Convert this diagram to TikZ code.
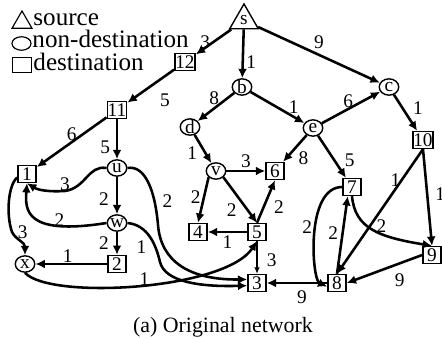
\documentclass[tikz,border=0pt]{standalone}
\usepackage{fontspec}
\setmainfont{Liberation Serif}
\usetikzlibrary{shapes,arrows.meta,calc}
\tikzstyle{line} = [draw, line width=1.1pt, -{Latex[length=4pt,width=3.8pt]}]
\tikzstyle{thinline} = [draw, line width=0.45pt, -{Latex[length=2.8pt,width=2.4pt]}]
\tikzstyle{dest} = [draw, rectangle, line width=0.6pt, inner sep=0.2pt, minimum width=7.8pt, minimum height=7.3pt, font=\fontsize{8.3}{9}\selectfont]
\tikzstyle{relay} = [draw, ellipse, line width=0.6pt, inner sep=-1pt, minimum width=8.4pt, minimum height=7pt, font=\fontsize{8.3}{9}\selectfont]
\tikzstyle{srcnode} = [draw, regular polygon, regular polygon sides=3, line width=0.6pt, inner sep=0pt, minimum size=14.2pt, font=\fontsize{8.3}{9}\selectfont]
\tikzstyle{wt} = [font=\fontsize{8.3}{9}\selectfont, inner sep=1pt]
\tikzstyle{legtext} = [anchor=base west, inner sep=0pt, font=\fontsize{10.8}{12}\selectfont]

\begin{document}
\begin{tikzpicture}[x=0.43pt, y=-0.43pt]
    \useasboundingbox (0,0) rectangle (442,339);
    % legend
    \node[draw, regular polygon, regular polygon sides=3, line width=0.5pt, minimum size=9.9pt, inner sep=0pt] (legsrc) at (22,22.5) {};
    \node[legtext] (legsrctext) at (33,26) {source};
    \node[draw, ellipse, line width=0.5pt, minimum width=8.2pt, minimum height=5.8pt, inner sep=0pt] (legrelay) at (21.5,43.5) {};
    \node[legtext] (legrelaytext) at (32,48) {non-destination};
    \node[draw, rectangle, line width=0.5pt, minimum width=8.4pt, minimum height=6.8pt, inner sep=0pt] (legdest) at (22,65) {};
    \node[legtext] (legdesttext) at (33,70.5) {destination};

    % nodes
    \node[srcnode] (s) at (244,20.5) {s};
    \node[dest] (n12) at (185,62) {12};
    \node[relay] (b) at (242,87) {b};
    \node[relay] (c) at (389,87) {c};
    \node[dest] (n11) at (117,110) {11};
    \node[relay] (d) at (190,127) {d};
    \node[relay] (e) at (313,128) {e};
    \node[dest] (n10) at (423,140) {10};
    \node[dest] (n1) at (27,174) {1};
    \node[relay] (u) at (117,168) {u};
    \node[relay] (v) at (216,171) {v};
    \node[dest] (n6) at (275,171) {6};
    \node[dest] (n7) at (352,187) {7};
    \node[relay] (w) at (117,223) {w};
    \node[dest] (n4) at (198,232) {4};
    \node[dest] (n5) at (257,232) {5};
    \node[relay] (x) at (25,264) {x};
    \node[dest] (n2) at (117,264) {2};
    \node[dest] (n9) at (432,255) {9};
    \node[dest] (n3) at (257,283) {3};
    \node[dest] (n8) at (337,283) {8};

    % straight links
    \path[line] (s) -- node[wt, left] {3} (n12);
    \path[line] (s) -- node[wt, right, pos=0.68] {1} (b);
    \path[line] (s) -- node[wt, above=1pt] {9} (c);
    \path[line] (n12) -- node[wt, below=6pt, pos=0.2] {5} (n11);
    \path[line] (b) -- node[wt, above, pos=0.55] {8} (d);
    \path[line] (b) -- node[wt, above, pos=0.8] {1} (e);
    \path[line] (e) -- node[wt, above=-1pt, pos=0.45] {6} (c);
    \path[line] (c) -- node[wt, right=3pt, pos=0.37] {1} (n10);
    \path[line] (n11) -- node[wt, above=-1pt] {6} (n1);
    \path[line] (n11) -- node[wt, left=1.5pt, pos=0.7] {5} (u);
    \path[line] (d) -- node[wt, left=2pt, pos=0.63] {1} (v);
    \path[line] (e) -- node[wt, below right] {8} (n6);
    \path[line] (e) -- node[wt, right=3pt, pos=0.58] {5} (n7);
    \path[line] (n10.south) -- node[wt, left=-1pt, pos=0.25] {1} (n8.north);
    \path[line] (n10.south) -- node[wt, right=2pt, pos=0.47] {1} (n9.north);
    \path[line] (v) -- node[wt, above] {3} (n6);
    \path[line] (v.south west) -- node[wt, left, pos=0.43] {2} (n4.north);
    \path[line] (v.south east) -- node[wt, below left] {2} (n5.north);
    \path[line] (n5.north) -- node[wt, right=3pt, pos=0.37] {2} (n6.south);
    \path[line] (n5) -- node[wt, below] {1} (n4);
    \path[thinline] (n5) -- node[wt, right=3pt, pos=0.57] {3} (n3);
    \path[line, line width=0.8pt] (n8) -- node[wt, below=2pt, pos=0.42] {9} (n3);
    \path[line] (n9.west) -- node[wt, below=3pt, pos=0.3] {9} (n8.east);
    \path[line] (n8.north) -- node[wt, left=0.5pt, pos=0.53] {2} (n7.-115);
    \path[line] (u) -- node[wt, left=2pt, pos=0.6] {2} (w);
    \path[line] (w) -- node[wt, left=2pt] {2} (n2);
    \path[line] (n2) -- node[wt, above=-1pt, pos=0.55] {1} (x);

    % curved links
    \path[line] (n7.west) .. controls (305,187) and (312,280) .. (n8.200) node[wt, left, pos=0.45] {2};
    \path[line] (n7.south) .. controls (355,228) and (378,237) .. (n9.north) node[wt, above=-1pt, pos=0.6] {2};
    \path[line] (u.west) .. controls (88,165) and (86,188) .. (65,191) node[wt, above=-1.5pt] {3}
        .. controls (48,192) and (38,190) .. (n1.south);
    \path[line] (w.west) .. controls (25,236) and (25,210) .. (n1.south) node[wt, above=-1.7pt, pos=0.25] {2};
    \path[line] (n1.200) .. controls (8,185) and (6,215) .. (12,232) node[wt, right=1pt] {3}
        .. controls (16,240) and (25,242) .. (x.north);
    \path[line] (x.south) .. controls (50,300) and (225,290) .. (n5.south) node[wt, above=-1.7pt, pos=0.52] {1};
    \path[line] (u.east) .. controls (145,165) and (155,190) .. (158,225) node[wt, right=2pt, pos=0.75] {2}
        .. controls (161,262) and (190,280) .. (n3.160);
    \path[line] (w.east) .. controls (148,225) and (156,245) .. (160,262) node[wt, below left, pos=0.5] {1}
        .. controls (165,282) and (200,287) .. (n3.195);

    \node[font=\fontsize{9.4}{11}\selectfont, anchor=base] (caption) at (223,333) {(a) Original network};
\end{tikzpicture}
\end{document}
